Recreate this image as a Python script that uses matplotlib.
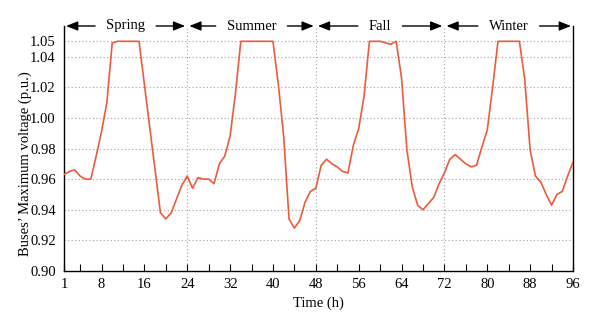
import matplotlib
matplotlib.use("Agg")
import matplotlib.pyplot as plt

plt.rcParams['font.family'] = ['Liberation Serif', 'DejaVu Serif']

hours = list(range(1, 97))
voltage = [
    # Spring 1-24
    0.963, 0.965, 0.966, 0.962, 0.960, 0.960, 0.975, 0.991, 1.010, 1.049,
    1.050, 1.050, 1.050, 1.050, 1.050, 1.022, 0.994, 0.966, 0.938, 0.934,
    0.938, 0.947, 0.956, 0.962,
    # Summer 25-48
    0.954, 0.961, 0.960, 0.960, 0.957, 0.970, 0.975, 0.988, 1.016, 1.050,
    1.050, 1.050, 1.050, 1.050, 1.050, 1.050, 1.022, 0.988, 0.934, 0.928,
    0.933, 0.945, 0.952, 0.954,
    # Fall 49-72
    0.969, 0.973, 0.970, 0.968, 0.965, 0.964, 0.982, 0.993, 1.014, 1.050,
    1.050, 1.050, 1.049, 1.048, 1.050, 1.026, 0.979, 0.955, 0.943, 0.940,
    0.944, 0.948, 0.957, 0.964,
    # Winter 73-96
    0.973, 0.976, 0.973, 0.970, 0.968, 0.969, 0.981, 0.992, 1.020, 1.050,
    1.050, 1.050, 1.050, 1.050, 1.025, 0.979, 0.962, 0.958, 0.950, 0.943,
    0.950, 0.952, 0.962, 0.971,
]

seasons = ['Spring', 'Summer', 'Fall', 'Winter']
season_bounds = [1, 24, 48, 72, 96]
season_dividers = [24, 48, 72]

x_ticks = [1] + list(range(4, 97, 4))
x_labels = ['1'] + [str(t) if t % 8 == 0 else '' for t in range(4, 97, 4)]
y_ticks = [0.90, 0.92, 0.94, 0.96, 0.98, 1.00, 1.02, 1.04, 1.05]
y_labels = ['0.90', '0.92', '0.94', '0.96', '0.98', '1.00', '1.02', '1.04', '1.05']

fig = plt.figure(figsize=(6.0, 3.26), dpi=100)
ax = fig.add_axes([64/600, 1 - 271/326, (573-64)/600, (271-26)/326])

ax.plot(hours, voltage, color='#EE5A3A', lw=1.2, zorder=3)

ax.set_xlim(1, 96)
ax.set_ylim(0.90, 1.06)

for yv in y_ticks[1:]:
    ax.axhline(yv, color='#a0a0a0', lw=0.8, ls=(0, (1, 2.2)), zorder=1)
for xv in season_dividers:
    ax.axvline(xv, color='#a0a0a0', lw=0.8, ls=(0, (1, 2.2)), zorder=1)

ax.set_xticks(x_ticks)
ax.set_xticklabels(x_labels)
ax.set_yticks(y_ticks)
ax.set_yticklabels(y_labels)
ax.tick_params(axis='x', direction='in', length=5, width=0.8, pad=5, labelsize=10.5)
ax.tick_params(axis='y', length=0, pad=6, labelsize=10.5)

ax.spines['top'].set_visible(False)
for s in ['left', 'right', 'bottom']:
    ax.spines[s].set_linewidth(1.0)
    ax.spines[s].set_color('black')

ax.set_xlabel('Time (h)', fontsize=10.5, labelpad=4)
ax.set_ylabel('Buses\u2019 Maximum voltage (p.u.)', fontsize=10.5)
ax.yaxis.set_label_coords(-0.063, 0.44)

# season labels with arrows at top
y_arrow = 1.06
texts = []
for i, name in enumerate(seasons):
    xc = (season_bounds[i] + season_bounds[i+1]) / 2
    t = ax.text(xc, y_arrow, name, ha='center', va='center', fontsize=10.5, clip_on=False)
    texts.append(t)

fig.canvas.draw()
renderer = fig.canvas.get_renderer()
inv = ax.transData.inverted()
gap_px = 11
for i, t in enumerate(texts):
    bb = t.get_window_extent(renderer)
    xl = inv.transform((bb.x0 - gap_px, 0))[0]
    xr = inv.transform((bb.x1 + gap_px, 0))[0]
    x0 = season_bounds[i]
    x1 = season_bounds[i+1]
    ap = dict(arrowstyle='-|>,head_length=0.7,head_width=0.28', color='black', lw=1.0,
              shrinkA=0, shrinkB=1.5)
    ax.annotate('', xy=(x0, y_arrow), xytext=(xl, y_arrow), arrowprops=ap, annotation_clip=False)
    ax.annotate('', xy=(x1, y_arrow), xytext=(xr, y_arrow), arrowprops=ap, annotation_clip=False)

fig.savefig('out.png', dpi=100)
